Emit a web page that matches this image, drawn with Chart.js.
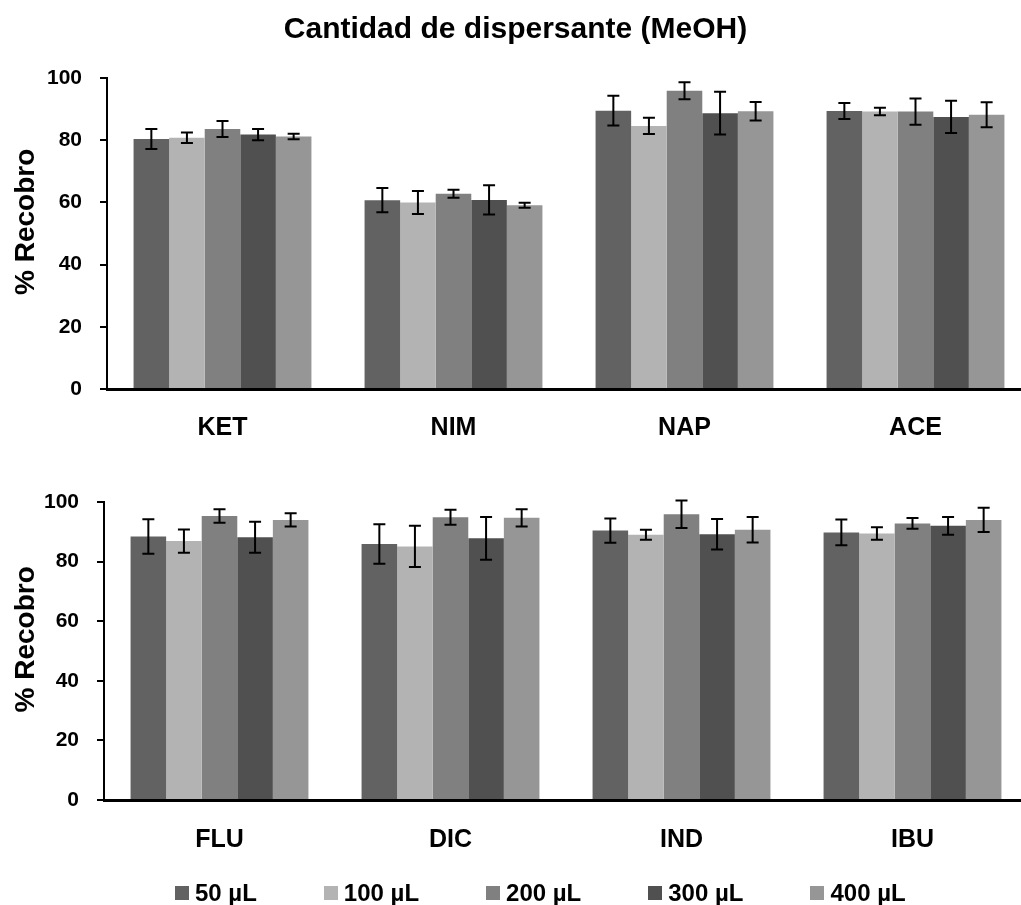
<!DOCTYPE html>
<html>
<head>
<meta charset="utf-8">
<script src="https://cdn.jsdelivr.net/npm/chart.js@4.4.1/dist/chart.umd.min.js"></script>
<style>
  body { margin: 0; overflow: hidden; background: #fff; width: 1021px; height: 905px; }
  .panel { position: absolute; left: 0; }
  canvas { display: block; }
  #leyenda {
    position: absolute; left: 175px; top: 881px; height: 24px;
    display: flex; align-items: center;
    font: bold 24px "Liberation Sans", Arial, sans-serif; line-height: 24px; color: #000;
    white-space: nowrap;
  }
  #leyenda .item { display: flex; align-items: center; margin-right: 67px; }
  #leyenda .caja { width: 14px; height: 14px; margin-right: 6px; }
</style>
</head>
<body>
<div class="panel" style="top:0"><canvas id="graficaSuperior" width="1031" height="445" style="width:1031px;height:445px"></canvas></div>
<div class="panel" style="top:452px"><canvas id="graficaInferior" width="1028" height="453" style="width:1028px;height:453px"></canvas></div>
<div id="leyenda"></div>
<script>
const titulo = "Cantidad de dispersante (MeOH)";
const tituloEje = "   % Recobro";
const volumenes = ["50 µL", "100 µL", "200 µL", "300 µL", "400 µL"];
const colores = ["#626262", "#b3b3b3", "#808080", "#505050", "#969696"];

const farmacosArriba = ["KET", "NIM", "NAP", "ACE"];
const farmacosAbajo = ["FLU", "DIC", "IND", "IBU"];

// % recobro por volumen (una fila por volumen)
const recobroArriba = [
    [80.4, 60.7, 89.5, 89.4],
    [80.8, 60.0, 84.6, 89.2],
    [83.6, 62.8, 95.9, 89.2],
    [81.8, 60.8, 88.7, 87.5],
    [81.2, 59.1, 89.3, 88.2]
];
const errorArriba = [
    [3.2, 3.9, 4.8, 2.6],
    [1.7, 3.7, 2.6, 1.2],
    [2.6, 1.3, 2.7, 4.2],
    [1.8, 4.7, 6.9, 5.2],
    [0.9, 0.8, 3.0, 4.0]
];

const recobroAbajo = [
    [88.4, 85.9, 90.4, 89.8],
    [86.9, 85.1, 89.0, 89.4],
    [95.3, 94.9, 95.9, 92.8],
    [88.2, 87.8, 89.2, 92.0],
    [94.0, 94.7, 90.7, 94.0]
];
const errorAbajo = [
    [5.8, 6.6, 4.1, 4.3],
    [3.9, 6.9, 1.7, 2.1],
    [2.3, 2.5, 4.6, 1.8],
    [5.2, 7.2, 5.1, 3.0],
    [2.2, 2.9, 4.3, 4.1]
];

const ticksY = [0, 20, 40, 60, 80, 100];

Chart.defaults.font.family = '"Liberation Sans", Arial, sans-serif';
Chart.defaults.font.weight = "bold";
Chart.defaults.color = "#000";

// Barras de error dibujadas sobre cada barra
const barrasError = {
    id: "barrasError",
    afterDatasetsDraw(chart) {
        const ctx = chart.ctx;
        const escalaY = chart.scales.y;
        ctx.save();
        ctx.strokeStyle = "#000";
        ctx.lineWidth = 2;
        chart.data.datasets.forEach((ds, i) => {
            chart.getDatasetMeta(i).data.forEach((barra, j) => {
                const v = ds.data[j], e = ds.errores[j];
                const arriba = escalaY.getPixelForValue(v + e);
                const abajo = escalaY.getPixelForValue(v - e);
                ctx.beginPath();
                ctx.moveTo(barra.x, arriba); ctx.lineTo(barra.x, abajo);
                ctx.moveTo(barra.x - 6, arriba); ctx.lineTo(barra.x + 6, arriba);
                ctx.moveTo(barra.x - 6, abajo); ctx.lineTo(barra.x + 6, abajo);
                ctx.stroke();
            });
        });
        ctx.restore();
    }
};

function crearGrafica(id, categorias, valores, errores, cfg) {
    const datasets = volumenes.map((nombre, i) => ({
        label: nombre,
        data: valores[i],
        errores: errores[i],
        backgroundColor: colores[i],
        borderWidth: 0,
        categoryPercentage: 0.77,
        barPercentage: 1
    }));

    return new Chart(document.getElementById(id), {
        type: "bar",
        data: { labels: categorias, datasets: datasets },
        plugins: [barrasError],
        options: {
            responsive: false,
            animation: false,
            layout: { padding: { top: cfg.paddingTop, left: 0, right: 0, bottom: 0 } },
            plugins: {
                tooltip: { enabled: false },
                legend: { display: false },
                title: {
                    display: cfg.conTitulo,
                    text: titulo,
                    font: { size: 30, weight: "bold" },
                    padding: { top: 12, bottom: 30 }
                }
            },
            scales: {
                x: {
                    grid: { display: false },
                    border: { display: true, color: "#000", width: 3 },
                    ticks: { padding: cfg.paddingX, font: { size: 25, weight: "bold" } },
                    afterFit: s => { s.height = cfg.altoX; }
                },
                y: {
                    min: 0,
                    max: 100,
                    afterBuildTicks: s => { s.ticks = ticksY.map(v => ({ value: v })); },
                    grid: { drawOnChartArea: false, drawTicks: true, tickLength: 7, color: "#000", lineWidth: 2 },
                    border: { display: true, color: "#000", width: 2 },
                    ticks: { padding: 18, font: { size: 21, weight: "bold" } },
                    title: {
                        display: true,
                        text: tituloEje,
                        font: { size: 28, weight: "bold" },
                        padding: { top: 9, bottom: 0 }
                    },
                    afterFit: s => { s.width = cfg.anchoY; }
                }
            }
        }
    });
}

crearGrafica("graficaSuperior", farmacosArriba, recobroArriba, errorArriba,
    { conTitulo: true, paddingTop: 0, paddingX: 16, altoX: 56, anchoY: 107 });

const inferior = crearGrafica("graficaInferior", farmacosAbajo, recobroAbajo, errorAbajo,
    { conTitulo: false, paddingTop: 50, paddingX: 17, altoX: 105, anchoY: 104 });

// Leyenda común, construida con los mismos datasets de la gráfica inferior
const leyenda = document.getElementById("leyenda");
inferior.data.datasets.forEach(ds => {
    const item = document.createElement("span");
    item.className = "item";
    const caja = document.createElement("span");
    caja.className = "caja";
    caja.style.background = ds.backgroundColor;
    item.appendChild(caja);
    item.appendChild(document.createTextNode(ds.label));
    leyenda.appendChild(item);
});
</script>
</body>
</html>
